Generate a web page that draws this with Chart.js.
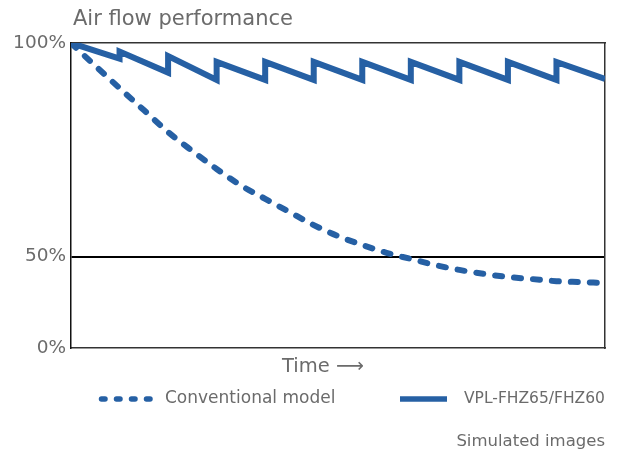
<!DOCTYPE html>
<html>
<head>
<meta charset="utf-8">
<script src="https://cdn.jsdelivr.net/npm/chart.js@4/dist/chart.umd.min.js"></script>
<style>
  html, body { margin: 0; padding: 0; background: #ffffff; }
  #wrap { position: relative; width: 618px; height: 452px; }
</style>
</head>
<body>
<div id="wrap"><canvas id="c" width="618" height="452"></canvas></div>
<script>
// ---- Data ----
const chartTitle = 'Air flow performance';
const xAxisTitle = 'Time \u27F6';
const noteText = 'Simulated images';

const seriesLabels = ['Conventional model', 'VPL-FHZ65/FHZ60'];

// y-axis tick positions (scale units) and their printed labels
const yTickValues = [0, 30, 100];
const yTickLabels = ['0%', '50%', '100%'];

// Conventional model (dashed curve)
const conventionalX = [0, 0.5, 1, 1.5, 2, 2.5, 3, 3.5, 4, 4.5, 5, 5.5, 6, 6.5, 7, 7.5, 8, 8.5, 9, 9.5, 10, 10.5, 11];
const conventionalY = [100, 92.5, 85.2, 78.0, 70.8, 64.6, 58.7, 53.3, 48.9, 44.6, 40.3, 36.7, 33.8, 31.2, 29.2, 27.2, 25.6, 24.3, 23.3, 22.6, 21.9, 21.6, 21.3];

// VPL-FHZ65/FHZ60 (sawtooth)
const vplX = [0, 1, 1, 2, 2, 3, 3, 4, 4, 5, 5, 6, 6, 7, 7, 8, 8, 9, 9, 10, 10, 11];
const vplY = [100, 94.9, 97.2, 90.3, 95.7, 87.9, 93.8, 87.9, 93.8, 87.9, 93.8, 87.9, 93.8, 87.9, 93.8, 87.9, 93.8, 87.9, 93.8, 87.9, 93.8, 88.2];

// ---- Styles ----
const BLUE = '#2660a4';
const TEXT = '#6b6b6b';
const FONT = "'DejaVu Sans', sans-serif";

const toPts = (xs, ys) => xs.map((x, i) => ({ x: x, y: ys[i] }));

const annotationsPlugin = {
  id: 'annotations',
  afterDraw(chart) {
    const ctx = chart.ctx;
    const ds = chart.data.datasets;
    ctx.save();
    ctx.fillStyle = TEXT;
    // Title
    ctx.font = '21px ' + FONT;
    ctx.textAlign = 'left';
    ctx.textBaseline = 'alphabetic';
    ctx.fillText(chartTitle, 73, 25);
    // X axis title
    ctx.font = '19.5px ' + FONT;
    ctx.fillText(xAxisTitle, 282, 372);
    // Legend
    const ly = 399;
    // dashed sample
    ctx.save();
    ctx.strokeStyle = ds[0].borderColor;
    ctx.lineWidth = 5.5;
    ctx.lineCap = 'round';
    ctx.setLineDash([3.5, 11.5]);
    ctx.beginPath();
    ctx.moveTo(101.5, ly);
    ctx.lineTo(150, ly);
    ctx.stroke();
    ctx.restore();
    // solid sample
    ctx.save();
    ctx.strokeStyle = ds[1].borderColor;
    ctx.lineWidth = 5.5;
    ctx.lineCap = 'butt';
    ctx.beginPath();
    ctx.moveTo(400, ly);
    ctx.lineTo(447, ly);
    ctx.stroke();
    ctx.restore();
    ctx.textBaseline = 'middle';
    ctx.font = '17px ' + FONT;
    ctx.fillText(ds[0].label, 165, ly);
    ctx.font = '15.5px ' + FONT;
    ctx.fillText(ds[1].label, 464, ly);
    // Note
    ctx.textAlign = 'right';
    ctx.textBaseline = 'alphabetic';
    ctx.font = '16.5px ' + FONT;
    ctx.fillText(noteText, 605, 446);
    ctx.restore();
  }
};

new Chart(document.getElementById('c'), {
  type: 'line',
  data: {
    datasets: [
      {
        label: seriesLabels[0],
        data: toPts(conventionalX, conventionalY),
        borderColor: BLUE,
        backgroundColor: BLUE,
        borderWidth: 6,
        borderDash: [7, 12],
        borderCapStyle: 'round',
        cubicInterpolationMode: 'monotone',
        pointRadius: 0,
        fill: false
      },
      {
        label: seriesLabels[1],
        data: toPts(vplX, vplY),
        borderColor: BLUE,
        backgroundColor: BLUE,
        borderWidth: 6,
        borderJoinStyle: 'miter',
        tension: 0,
        pointRadius: 0,
        fill: false
      }
    ]
  },
  options: {
    responsive: false,
    animation: false,
    devicePixelRatio: 1,
    layout: { padding: { top: 43, bottom: 104, left: 0, right: 13 } },
    plugins: {
      legend: { display: false },
      tooltip: { enabled: false },
      title: { display: false }
    },
    scales: {
      x: {
        type: 'linear',
        position: 'bottom',
        min: 0,
        max: 11,
        ticks: { display: false },
        grid: { display: false, drawTicks: false },
        border: { display: true, color: '#333', width: 1.5 },
        afterFit(s) { s.height = 0; }
      },
      x2: {
        type: 'linear',
        position: 'top',
        min: 0,
        max: 11,
        ticks: { display: false },
        grid: { display: false, drawTicks: false },
        border: { display: true, color: '#333', width: 1.5 },
        afterFit(s) { s.height = 0; }
      },
      y: {
        type: 'linear',
        position: 'left',
        min: 0,
        max: 100,
        afterBuildTicks(s) { s.ticks = yTickValues.map(v => ({ value: v })); },
        afterFit(s) { s.width = 71; },
        ticks: {
          padding: 5,
          color: TEXT,
          font: { family: FONT, size: 18.5 },
          callback(v) {
            const i = yTickValues.indexOf(v);
            return i >= 0 ? yTickLabels[i] : '';
          }
        },
        grid: {
          drawTicks: false,
          color: ctx => (ctx.tick && ctx.tick.value === yTickValues[1]) ? '#000' : 'rgba(0,0,0,0)',
          lineWidth: 2
        },
        border: { display: true, color: '#111', width: 1.5 }
      },
      y2: {
        type: 'linear',
        position: 'right',
        min: 0,
        max: 100,
        ticks: { display: false },
        grid: { display: false, drawTicks: false },
        border: { display: true, color: '#333', width: 1.5 },
        afterFit(s) { s.width = 0; }
      }
    }
  },
  plugins: [annotationsPlugin]
});
</script>
</body>
</html>
